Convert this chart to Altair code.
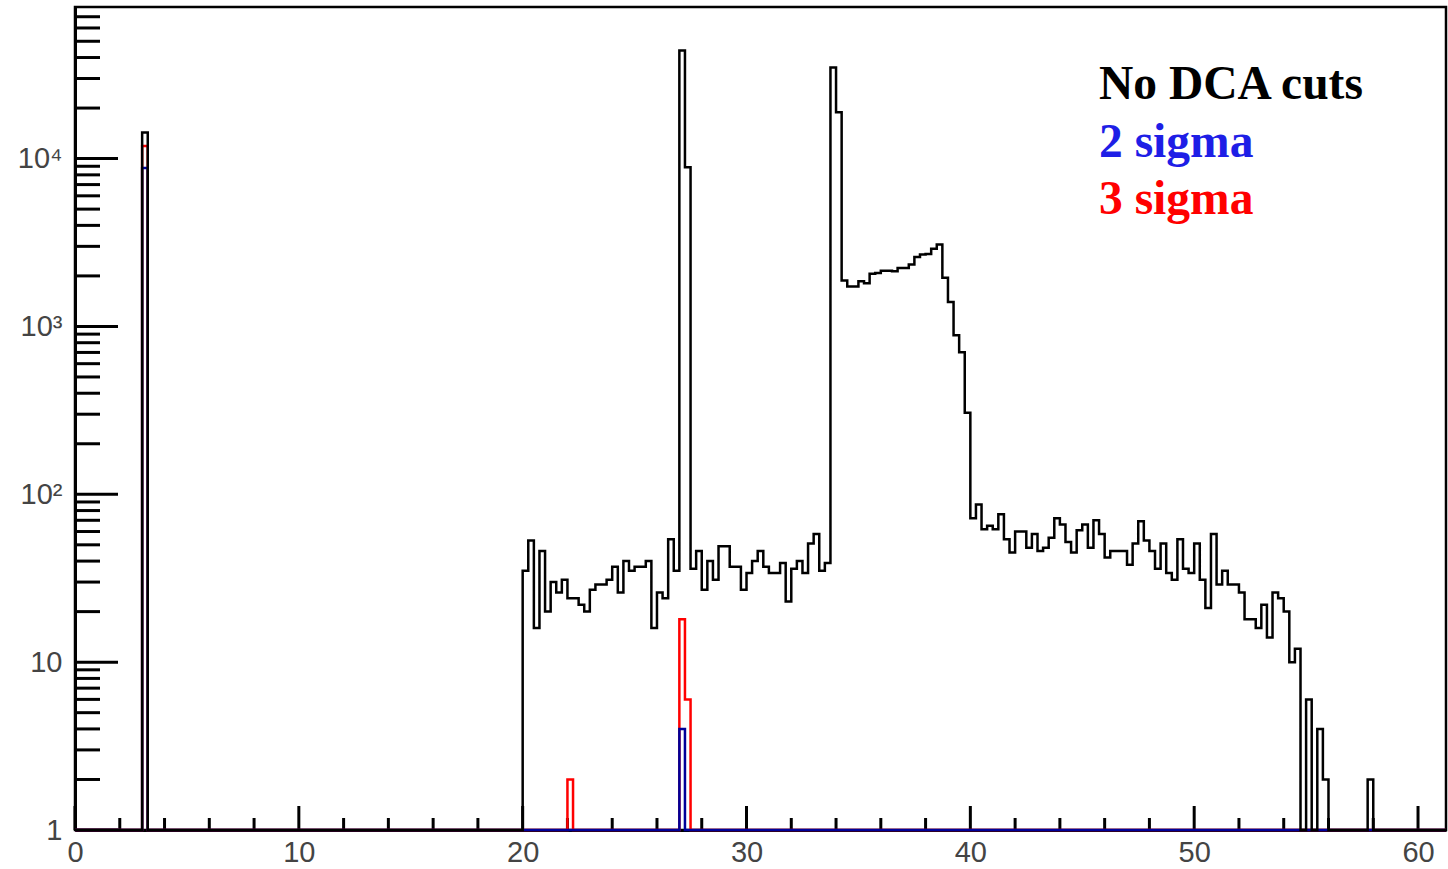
import altair as alt
import pandas as pd

# ---------------- data ----------------
BIN_WIDTH = 0.25
N_BINS = 245            # 0 .. 61.25
X_MAX = 61.25
Y_MIN, Y_MAX = 1, 80000

# "No DCA cuts" histogram: isolated bins + continuous block 20.0 .. 55.75
black_isolated_left = [3.0, 57.75]
black_isolated_count = [14300, 2]
black_block_start = 20.0
black_block_counts = [
    35, 53, 16, 46,   20, 30, 26, 31,   24, 24, 22, 20,   27, 29, 29, 31,
    37, 26, 40, 35,   37, 37, 40, 16,   26, 24, 54, 35,   44000, 8870, 36, 46,
    27, 40, 31, 49,   49, 37, 37, 27,   34, 40, 46, 37,   34, 34, 39, 23,
    36, 40, 34, 51,   58, 35, 39, 34900, 18900, 1880, 1730, 1730,
    1860, 1810, 2060, 2080, 2150, 2150, 2130, 2230, 2230, 2340, 2590, 2680,
    2700, 2900, 3080, 1950, 1400, 885, 703, 306,
    72, 87, 62, 65,   62, 76, 54, 45,   60, 60, 48, 58,   46, 48, 55, 72,
    66, 52, 45, 61,   66, 48, 70, 58,   42, 46, 46, 46,   38, 51, 69, 53,
    46, 36, 51, 34,   31, 54, 36, 34,   51, 31, 21, 58,   29, 35, 29, 29,
    26, 18, 18, 16,   22, 14, 26, 24,   20, 10, 12, 0,    6, 0, 4, 2,
]

# "2 sigma" histogram (non-empty bins)
blue_left = [3.0, 27.0]
blue_count = [8800, 4]

# "3 sigma" histogram (non-empty bins)
red_left = [3.0, 22.0, 27.0, 27.25]
red_count = [11900, 2, 18, 6]

x_major_ticks = [0, 10, 20, 30, 40, 50, 60]
x_minor_ticks = [v for v in range(2, 61, 2) if v % 10 != 0]
y_major_ticks = [1, 10, 100, 1000, 10000]
y_minor_ticks = [m * 10 ** k for k in range(0, 4) for m in range(2, 10)] + \
                [m * 10000 for m in range(2, 8)]

legend_labels = ["No DCA cuts", "2 sigma", "3 sigma"]


# ---------------- helpers ----------------
def full_hist(lefts, counts):
    arr = [0] * N_BINS
    for l, c in zip(lefts, counts):
        arr[int(round(l / BIN_WIDTH))] = c
    return arr


def step_frame(arr):
    xs = [i * BIN_WIDTH for i in range(N_BINS)] + [X_MAX]
    ys = list(arr) + [arr[-1]]
    return pd.DataFrame({"x": xs, "count": ys})


black_arr = full_hist(black_isolated_left, black_isolated_count)
b0 = int(round(black_block_start / BIN_WIDTH))
for j, c in enumerate(black_block_counts):
    black_arr[b0 + j] = c
blue_arr = full_hist(blue_left, blue_count)
red_arr = full_hist(red_left, red_count)

W, H = 1371, 823

xscale = alt.Scale(domain=[0, X_MAX], nice=False, zero=False)
yscale = alt.Scale(type="log", domain=[Y_MIN, Y_MAX], nice=False, clamp=True)

label_font = "Liberation Sans"
xaxis = alt.Axis(values=x_major_ticks, ticks=False, grid=False, title=None,
                 labelFont=label_font, labelFontSize=29, labelColor="#444",
                 labelPadding=8, domainColor="black", domainWidth=3,
                 labelFlush=False, labelOverlap=False, format="d")
yaxis = alt.Axis(values=y_major_ticks, ticks=False, grid=False, title=None,
                 labelFont=label_font, labelFontSize=29, labelColor="#444",
                 labelPadding=13, domainColor="black", domainWidth=3,
                 labelOverlap=False,
                 labelExpr="datum.value == 1 ? '1' : datum.value == 10 ? '10' : "
                           "datum.value == 100 ? '10²' : datum.value == 1000 ? '10³' : '10⁴'")


def hist_layer(arr, color):
    return alt.Chart(step_frame(arr)).transform_calculate(
        yv="max(datum.count, 1)"
    ).mark_line(interpolate="step-after", color=color, strokeWidth=2.5,
                strokeJoin="miter", strokeCap="butt").encode(
        x=alt.X("x:Q", scale=xscale, axis=xaxis),
        y=alt.Y("yv:Q", scale=yscale, axis=yaxis),
    )


red_layer = hist_layer(red_arr, "#ff0000")
blue_layer = hist_layer(blue_arr, "#000099")
black_layer = hist_layer(black_arr, "#000000")


def xtick_layer(values, length):
    return alt.Chart(pd.DataFrame({"x": values})).mark_rule(
        color="black", strokeWidth=3).encode(
        x=alt.X("x:Q", scale=xscale, axis=xaxis),
        y=alt.value(H), y2=alt.value(H - length))


def ytick_layer(values, length):
    return alt.Chart(pd.DataFrame({"yv": values})).mark_rule(
        color="black", strokeWidth=3).encode(
        y=alt.Y("yv:Q", scale=yscale, axis=yaxis),
        x=alt.value(0), x2=alt.value(length))


def text_layer(txt, color, ypix):
    return alt.Chart(alt.Data(values=[{}])).mark_text(
        text=txt, color=color, font="Liberation Serif", fontWeight="bold",
        fontSize=47.5, align="left", baseline="alphabetic").encode(
        x=alt.value(1024), y=alt.value(ypix))


chart = alt.layer(
    xtick_layer(x_minor_ticks, 12),
    xtick_layer(x_major_ticks, 24),
    ytick_layer(y_minor_ticks, 25),
    ytick_layer(y_major_ticks, 43),
    red_layer, blue_layer, black_layer,
    text_layer(legend_labels[0], "#000000", 92),
    text_layer(legend_labels[1], "#1e1ee6", 150),
    text_layer(legend_labels[2], "#ff0000", 207),
).properties(
    width=W, height=H,
    background="white",
    autosize=alt.AutoSizeParams(type="none"),
    padding={"left": 75, "top": 7, "right": 2, "bottom": 39},
).configure_view(
    stroke="black", strokeWidth=2.5
)

chart.save("out.html", embed_options={"renderer": "svg", "actions": False})
